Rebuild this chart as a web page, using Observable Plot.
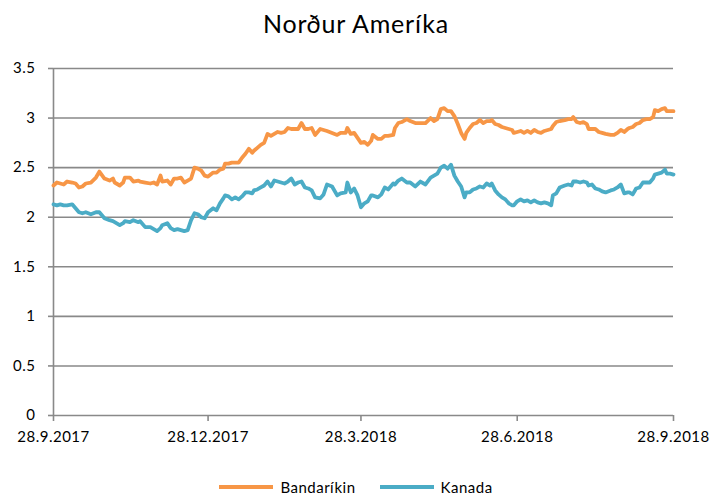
<!DOCTYPE html>
<html>
<head>
<meta charset="utf-8">
<script src="https://cdn.jsdelivr.net/npm/d3@7"></script>
<script src="https://cdn.jsdelivr.net/npm/@observablehq/plot@0.6"></script>
<style>
  body { margin: 0; background: #fff; font-family: Lato, "Open Sans", sans-serif; }
  #wrap { width: 712px; height: 496px; position: relative; overflow: hidden; }
  #title { height: 50px; line-height: 46px; text-align: center; font-size: 25px; letter-spacing: 0.8px; color: #000; }
  #legend { height: 46px; display: flex; justify-content: center; align-items: center; padding-top: 28px; box-sizing: border-box; font-size: 15px; letter-spacing: 0.5px; color: #000; }
  .item { display: flex; align-items: center; margin: 0 12px; }
  .sw { display: inline-block; width: 54px; height: 4px; margin-right: 7px; }
  #chart svg text { letter-spacing: 0.5px; }
</style>
</head>
<body>
<div id="wrap">
  <div id="title">Norður Ameríka</div>
  <div id="chart"></div>
  <div id="legend"></div>
</div>
<script>
// Day offsets from 28.9.2017
const days = [0,2,4,6,8,11,13,15,17,19,22,25,27,30,33,35,36,39,41,42,45,47,50,
  51,54,57,59,61,63,64,67,69,71,73,75,77,79,81,83,85,87,89,91,94,96,98,100,101,
  103,105,107,109,111,113,115,117,118,120,122,124,126,128,130,132,134,136,138,140,142,144,146,148,150,152,154,
  157,159,161,164,167,169,172,173,175,177,179,181,183,185,187,188,191,193,195,197,200,201,203,205,
  208,210,213,216,219,222,224,226,228,230,232,234,236,238,240,242,243,245,247,249,251,253,255,257,
  258,260,262,264,266,268,270,271,273,275,277,279,281,283,285,287,289,291,293,294,296,298,301,303,305,306,308,
  310,312,314,315,317,319,321,323,325,328,330,332,334,336,338,339,341,343,345,347,349,351,353,354,356,358,360,361,363,365];

const usa = [2.32,2.35,2.34,2.33,2.36,2.35,2.34,2.30,2.31,2.34,2.35,2.40,2.46,2.39,2.37,2.39,2.35,2.32,2.35,2.40,2.40,2.36,2.37,
  2.36,2.35,2.34,2.35,2.33,2.42,2.36,2.37,2.33,2.39,2.39,2.40,2.35,2.37,2.39,2.50,2.49,2.47,2.42,2.41,2.45,2.45,2.48,2.49,2.54,
  2.54,2.55,2.55,2.55,2.60,2.64,2.69,2.65,2.67,2.70,2.73,2.75,2.84,2.82,2.84,2.86,2.85,2.86,2.90,2.89,2.89,2.89,2.95,2.89,2.89,2.90,2.83,
  2.89,2.88,2.87,2.85,2.83,2.85,2.85,2.90,2.84,2.85,2.80,2.75,2.76,2.73,2.77,2.83,2.79,2.79,2.82,2.82,2.83,2.90,2.95,2.96,
  2.99,2.97,2.95,2.95,2.95,3.00,2.97,2.99,3.09,3.10,3.07,3.07,3.02,2.94,2.85,2.79,2.85,2.90,2.94,2.95,2.98,2.95,2.97,2.97,
  2.98,2.94,2.93,2.91,2.90,2.89,2.88,2.85,2.86,2.87,2.85,2.87,2.85,2.88,2.86,2.85,2.87,2.88,2.89,2.92,2.96,2.97,2.98,2.99,2.99,3.01,2.96,
  2.95,2.96,2.94,2.89,2.89,2.89,2.86,2.85,2.84,2.83,2.83,2.85,2.88,2.86,2.89,2.90,2.91,2.94,2.95,2.98,2.99,2.99,3.01,3.08,3.07,3.09,3.10,3.07,3.07,3.07];

const canada = [2.13,2.12,2.13,2.12,2.12,2.13,2.09,2.05,2.04,2.05,2.03,2.05,2.05,1.99,1.97,1.96,1.95,1.92,1.94,1.96,1.95,1.97,1.95,
  1.96,1.90,1.90,1.88,1.86,1.89,1.92,1.94,1.89,1.87,1.88,1.87,1.86,1.87,1.97,2.04,2.03,2.00,1.99,2.05,2.09,2.07,2.14,2.19,2.22,
  2.21,2.18,2.20,2.18,2.21,2.25,2.25,2.24,2.27,2.28,2.30,2.32,2.36,2.31,2.37,2.36,2.35,2.34,2.36,2.39,2.33,2.35,2.36,2.30,2.29,2.27,2.20,
  2.19,2.23,2.33,2.31,2.22,2.24,2.25,2.35,2.25,2.29,2.22,2.10,2.14,2.16,2.22,2.22,2.20,2.23,2.30,2.28,2.34,2.33,2.37,2.39,
  2.35,2.35,2.31,2.36,2.33,2.40,2.42,2.44,2.50,2.52,2.49,2.53,2.42,2.36,2.31,2.20,2.25,2.25,2.28,2.29,2.31,2.30,2.34,2.32,
  2.34,2.27,2.23,2.20,2.18,2.14,2.12,2.12,2.16,2.18,2.16,2.17,2.15,2.17,2.15,2.14,2.15,2.14,2.12,2.22,2.24,2.30,2.32,2.33,2.32,2.36,2.36,
  2.35,2.36,2.35,2.32,2.33,2.29,2.28,2.26,2.25,2.27,2.28,2.30,2.33,2.24,2.25,2.25,2.23,2.29,2.30,2.35,2.35,2.35,2.39,2.43,2.44,2.45,2.48,2.44,2.44,2.43];

const seriesNames = ["Bandaríkin", "Kanada"];
const seriesColors = ["#F79646", "#4BACC6"];
const xTickDays = [0, 91, 181, 273, 365];
const xTickLabels = ["28.9.2017", "28.12.2017", "28.3.2018", "28.6.2018", "28.9.2018"];
const yTicks = [0, 0.5, 1, 1.5, 2, 2.5, 3, 3.5];
const yTickLabels = ["0", "0.5", "1", "1.5", "2", "2.5", "3", "3.5"];

const toDate = d => new Date(Date.UTC(2017, 8, 28 + d));
const rows = [
  ...days.map((d, i) => ({date: toDate(d), value: usa[i], series: seriesNames[0]})),
  ...days.map((d, i) => ({date: toDate(d), value: canada[i], series: seriesNames[1]}))
];
const xTicks = xTickDays.map(toDate);
const gridColor = "#898989";

const chart = Plot.plot({
  width: 712,
  height: 400,
  marginTop: 18,
  marginBottom: 35,
  marginLeft: 53,
  marginRight: 39,
  style: {fontFamily: "Lato, 'Open Sans', sans-serif", fontSize: "15px", color: "#000", background: "#fff"},
  x: {type: "utc", domain: [toDate(0), toDate(365)], label: null},
  y: {domain: [0, 3.5], label: null},
  color: {domain: seriesNames, range: seriesColors},
  marks: [
    Plot.gridY(yTicks, {stroke: gridColor, strokeOpacity: 1, strokeWidth: 1.6}),
    Plot.ruleX([toDate(0)], {stroke: gridColor, strokeWidth: 1.6}),
    Plot.axisY({ticks: yTicks, label: null, tickSize: 5, tickPadding: 13, stroke: gridColor, strokeWidth: 1.6, fill: "#000",
      tickFormat: v => yTickLabels[yTicks.indexOf(v)], fontSize: 15}),
    Plot.axisX({ticks: xTicks, label: null, tickSize: 6, tickPadding: 10, stroke: gridColor, strokeWidth: 1.6, fill: "#000",
      tickFormat: v => xTickLabels[xTicks.findIndex(t => +t === +v)], fontSize: 15}),
    Plot.line(rows, {x: "date", y: "value", z: "series", stroke: "series", strokeWidth: 3.8, strokeLinejoin: "round"})
  ]
});
document.getElementById("chart").appendChild(chart);

const legend = document.getElementById("legend");
seriesNames.forEach((name, i) => {
  const item = document.createElement("div");
  item.className = "item";
  const sw = document.createElement("span");
  sw.className = "sw";
  sw.style.background = seriesColors[i];
  const label = document.createElement("span");
  label.textContent = name;
  item.appendChild(sw);
  item.appendChild(label);
  legend.appendChild(item);
});
</script>
</body>
</html>
